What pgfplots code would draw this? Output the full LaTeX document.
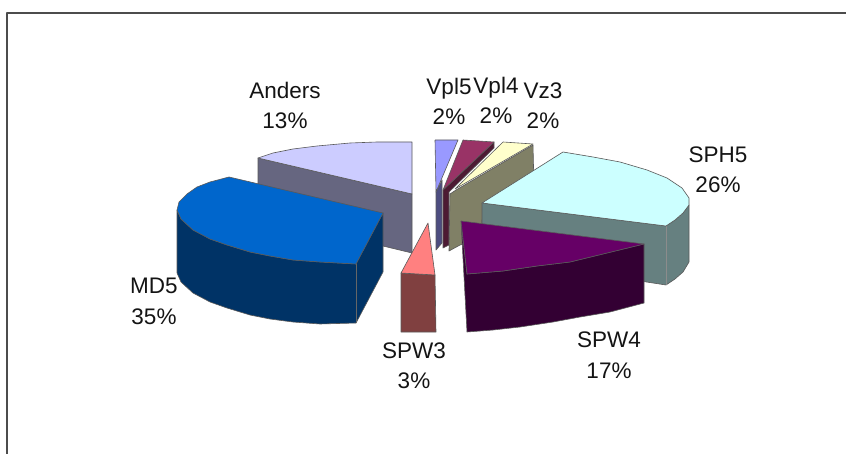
\documentclass[border=0pt]{standalone}
\usepackage{fontspec}
\setmainfont{Liberation Sans}
\usepackage{pgfplots}
\pgfplotsset{compat=1.18}
\definecolor{aT}{HTML}{CCCCFF}\definecolor{aS}{HTML}{666680}
\definecolor{mT}{HTML}{0066CC}\definecolor{mS}{HTML}{003366}
\definecolor{wT}{HTML}{FF8080}\definecolor{wS}{HTML}{804040}
\definecolor{fT}{HTML}{9999FF}\definecolor{fS}{HTML}{4D4D80}
\definecolor{qT}{HTML}{993366}\definecolor{qS}{HTML}{4D1A33}
\definecolor{zT}{HTML}{FFFFCC}\definecolor{zS}{HTML}{808066}
\definecolor{hT}{HTML}{CCFFFF}\definecolor{hS}{HTML}{668080}
\definecolor{pT}{HTML}{660066}\definecolor{pS}{HTML}{330033}
\newcommand{\lab}[4]{\node[anchor=base,font=\fontsize{22.5}{22.5}\selectfont,text=black!92,inner sep=0pt] at (axis cs:#1,#2) {#3};
\node[anchor=base,font=\fontsize{22.5}{22.5}\selectfont,text=black!92,inner sep=0pt] at (axis cs:#1,#2+30) {#4};}
\begin{document}
\begin{tikzpicture}
\begin{axis}[scale only axis,width=846pt,height=454pt,xmin=0,xmax=846,ymin=0,ymax=454,y dir=reverse,hide axis,clip=true,
  every axis plot/.append style={line width=0.6pt,line join=round,draw=black!65,mark=none}]
\addplot[draw=none,fill=white] coordinates {(0,0)(846,0)(846,454)(0,454)(0,0)};
\addplot[draw=black!70,line width=1.6pt,fill=none] coordinates {(7,454)(7,13)(846,13)};
% Anders
\addplot[fill=aS] coordinates {(258,158)(412,194)(412,253)(258,216)(258,158)};
\addplot[fill=aT] coordinates {(412,142)(377,142)(350,143)(317,146)(293,149)(273,153)(258,158)(412,194)(412,142)};
% Vpl5
\addplot[fill=fS] coordinates {(436,192)(442,180)(442,243)(436,250)(436,192)};
\addplot[fill=fT] coordinates {(435,140)(458,140)(436,192)(435,140)};
% Vpl4
\addplot[fill=qS] coordinates {(443,190)(494,142)(494,148)(449,192)(449,245)(443,248)(443,190)};
\addplot[fill=qT] coordinates {(463,140)(494,142)(443,190)(463,140)};
% Vz3
\addplot[fill=zS] coordinates {(450,194)(456,190)(533,145)(534,188)(482,220)(482,240)(460,245)(449,251)(450,194)};
\addplot[fill=zT] coordinates {(503,142)(533,144)(455,189)(503,142)};
% SPH5
\addplot[fill=hS] coordinates {(482,203)(666,226)(675,220)(683,213)(689,205)(689,262)(683,272)(675,279)(666,285)(640,281)(482,245)(482,203)};
\addplot[draw=black!45,forget plot] coordinates {(666,226)(666,285)};
\addplot[fill=hT] coordinates {(563,152)(593,157)(620,162)(647,170)(667,178)(682,188)(689,198)(689,205)(683,213)(675,220)(666,226)(482,203)(563,152)};
% SPW4
\addplot[fill=pS] coordinates {(461,221)(467,274)(503,271)(537,266)(570,262)(607,253)(644,244)(644,303)(610,312)(580,317)(553,322)(520,327)(493,330)(467,332)(461,221)};
\addplot[fill=pT] coordinates {(461,221)(644,244)(607,253)(570,262)(537,266)(503,271)(467,274)(461,221)};
% MD5
\addplot[fill=mS] coordinates {(177,210)(181,219)(193,230)(210,239)(227,245)(250,252)(270,256)(293,260)(320,262)(356,264)(383,213)(383,272)(356,323)(320,324)(293,322)(270,319)(250,315)(227,308)(210,302)(193,293)(181,282)(177,273)(177,210)};
\addplot[draw=black!60,forget plot] coordinates {(356,264)(356,323)};
\addplot[fill=mT] coordinates {(229,177)(383,213)(356,264)(320,262)(293,260)(270,256)(250,252)(227,245)(210,239)(193,230)(181,219)(177,210)(179,202)(187,194)(197,187)(210,182)(229,177)};
% SPW3
\addplot[fill=wS] coordinates {(401,273)(435,275)(436,332)(401,332)(401,273)};
\addplot[fill=wT] coordinates {(428,223)(435,275)(401,273)(428,223)};
\lab{285}{99}{Anders}{13\%}
\lab{449}{95}{Vpl5}{2\%}
\lab{496}{94}{Vpl4}{2\%}
\lab{543}{99}{Vz3}{2\%}
\lab{718}{163}{SPH5}{26\%}
\lab{154}{294}{MD5}{35\%}
\lab{414}{358}{SPW3}{3\%}
\lab{609}{348}{SPW4}{17\%}
\end{axis}
\end{tikzpicture}
\end{document}
